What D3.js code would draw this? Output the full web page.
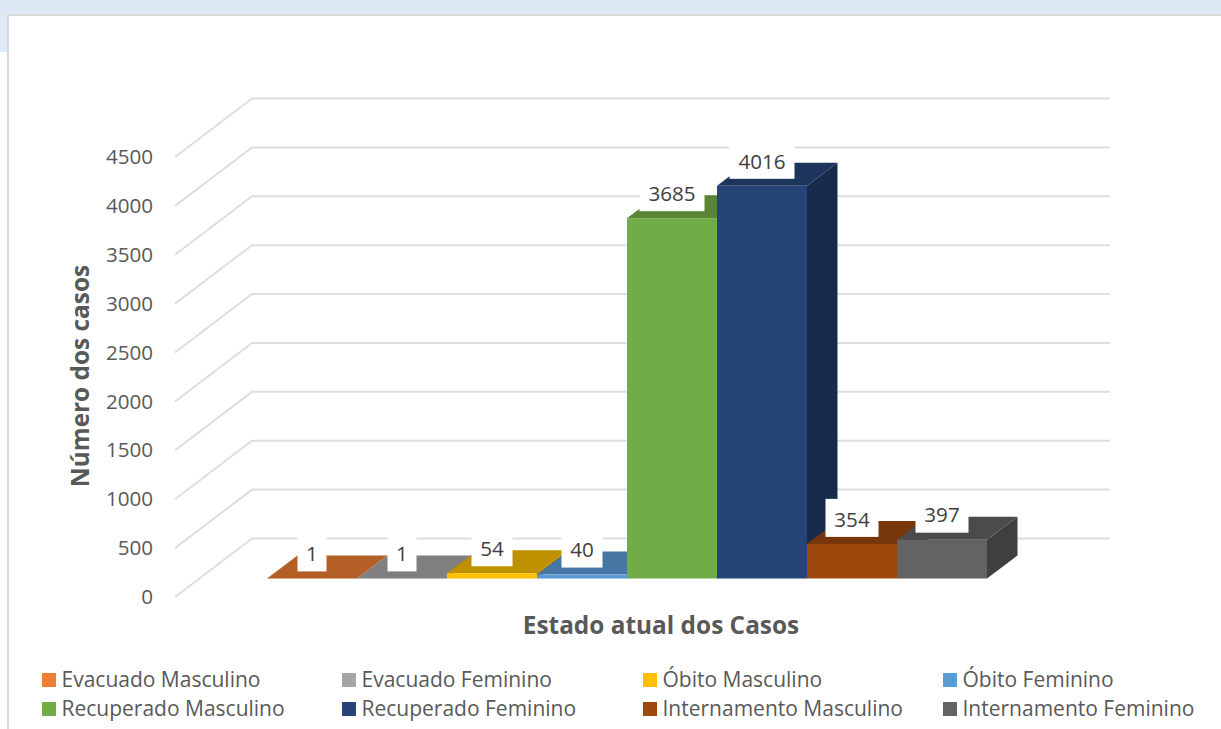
<!DOCTYPE html>
<html>
<head>
<meta charset="utf-8">
<script src="https://cdn.jsdelivr.net/npm/d3@7"></script>
<style>
  html, body { margin: 0; padding: 0; background: #fff; overflow: hidden; }
  svg { display: block; font-family: "Open Sans", sans-serif; }
</style>
</head>
<body>
<svg id="chart"></svg>
<script>
const seriesNames = ['Evacuado Masculino', 'Evacuado Feminino', 'Óbito Masculino', 'Óbito Feminino',
  'Recuperado Masculino', 'Recuperado Feminino', 'Internamento Masculino', 'Internamento Feminino'];
const seriesValues = [1, 1, 54, 40, 3685, 4016, 354, 397];
const frontColors = ['#ED7D31', '#A5A5A5', '#FFC000', '#5B9BD5', '#70AD47', '#264478', '#9E480E', '#636363'];
const topColors = ['#B45F25', '#7F7F7F', '#BF9000', '#4676A3', '#5A8536', '#1D345C', '#78370B', '#4B4B4B'];
const sideColors = ['#9A5120', '#6C6C6C', '#A37B00', '#3C658B', '#4A6E2C', '#182B4D', '#662F09', '#3F3F3F'];
const tickLabels = [0, 500, 1000, 1500, 2000, 2500, 3000, 3500, 4000, 4500];

const config = {
  w: 1221,
  h: 729,
  wallLeft: 252,
  wallRight: 1110,
  wallTop: 98.5,
  plotHeight: 440,
  axisX: 175,
  axisTop: 157,
  barFrontTop: 138.5,
  barsLeft: 267,
  barsRight: 987,
  depthX: 30.5,
  depthY: -23,
  labelH: 38,
  fontSize: 20.6,
};

const svg = d3.select('#chart').attr('width', config.w).attr('height', config.h);

// page background behind the card
svg.append('rect').attr('width', config.w).attr('height', 14).attr('fill', '#DDE9F5');
svg.append('rect').attr('y', 14).attr('width', 7).attr('height', 38).attr('fill', '#DDE9F5');
svg.append('path')
  .attr('d', `M8,${config.h}V15H${config.w}`)
  .attr('fill', 'none')
  .attr('stroke', '#D9D9D9')
  .attr('stroke-width', 2);

const yScale = d3.scaleLinear().domain([0, 4500]).range([config.plotHeight, 0]);
const xScale = d3.scaleBand().domain(seriesNames).range([config.barsLeft, config.barsRight]);

// gridlines: the oblique piece on the side wall, then the back wall
const grid = svg.append('g')
  .attr('fill', 'none')
  .attr('stroke', '#DEDEDE')
  .attr('stroke-width', 2);
grid.selectAll('path')
  .data(tickLabels)
  .join('path')
  .attr('d', (d) => {
    const yBack = config.wallTop + yScale(d);
    const yFront = config.axisTop + yScale(d);
    return `M${config.axisX},${yFront}L${config.wallLeft},${yBack}H${config.wallRight}`;
  });

// value axis
const yAxis = d3.axisLeft(yScale)
  .tickValues(tickLabels)
  .tickFormat(d3.format('d'))
  .tickSize(0)
  .tickPadding(22);
const axisG = svg.append('g')
  .attr('transform', `translate(${config.axisX},${config.axisTop})`)
  .call(yAxis);
axisG.select('.domain').remove();
axisG.selectAll('text')
  .attr('font-family', '"Open Sans", sans-serif')
  .attr('font-size', config.fontSize)
  .attr('fill', '#595959');

// bars, left to right so each one overlaps the side of the previous
const bars = svg.append('g')
  .selectAll('g')
  .data(seriesNames)
  .join('g');

const barX = (name) => xScale(name);
const barTop = (i) => config.barFrontTop + yScale(seriesValues[i]);
const barBottom = config.barFrontTop + yScale(0);
const dx = config.depthX;
const dy = config.depthY;

bars.append('path')
  .attr('fill', (d, i) => sideColors[i])
  .attr('d', (d, i) => {
    const x = barX(d) + xScale.bandwidth();
    return `M${x},${barTop(i)}l${dx},${dy}V${barBottom + dy}l${-dx},${-dy}Z`;
  });
bars.append('path')
  .attr('fill', (d, i) => topColors[i])
  .attr('d', (d, i) => `M${barX(d)},${barTop(i)}l${dx},${dy}h${xScale.bandwidth()}l${-dx},${-dy}Z`);
bars.append('rect')
  .attr('fill', (d, i) => frontColors[i])
  .attr('x', (d) => barX(d))
  .attr('y', (d, i) => barTop(i))
  .attr('width', xScale.bandwidth())
  .attr('height', (d, i) => barBottom - barTop(i));

// value labels on white boxes
const labelWidth = (i) => String(seriesValues[i]).length * 12 + 17;
const labels = svg.append('g')
  .selectAll('g')
  .data(seriesNames)
  .join('g')
  .attr('transform', (d, i) => `translate(${barX(d) + xScale.bandwidth() / 2},${barTop(i) - 7})`);
labels.append('rect')
  .attr('fill', '#fff')
  .attr('x', (d, i) => -labelWidth(i) / 2)
  .attr('y', -config.labelH)
  .attr('width', (d, i) => labelWidth(i))
  .attr('height', config.labelH);
labels.append('text')
  .attr('text-anchor', 'middle')
  .attr('y', -config.labelH / 2 + 1.5)
  .attr('dy', '0.35em')
  .attr('font-size', config.fontSize)
  .attr('fill', '#404040')
  .text((d, i) => seriesValues[i]);

// axis titles
svg.append('text')
  .attr('text-anchor', 'middle')
  .attr('x', 661)
  .attr('y', 634)
  .attr('font-size', 24.4)
  .attr('font-weight', 'bold')
  .attr('fill', '#595959')
  .text('Estado atual dos Casos');
svg.append('text')
  .attr('text-anchor', 'middle')
  .attr('transform', 'translate(89,376) rotate(-90)')
  .attr('font-size', 24.4)
  .attr('font-weight', 'bold')
  .attr('fill', '#595959')
  .text('Número dos casos');

// legend, four columns over two rows
const legendColX = [42, 342, 643, 943];
const legendY = [673, 702];
const legend = svg.append('g')
  .selectAll('g')
  .data(seriesNames)
  .join('g')
  .attr('transform', (d, i) => `translate(${legendColX[i % 4]},${legendY[Math.floor(i / 4)]})`);
legend.append('rect')
  .attr('width', 14)
  .attr('height', 14)
  .attr('fill', (d, i) => frontColors[i]);
legend.append('text')
  .attr('x', 19.5)
  .attr('y', 7)
  .attr('dy', '0.35em')
  .attr('font-size', 21)
  .attr('fill', '#595959')
  .text((d) => d);
</script>
</body>
</html>
